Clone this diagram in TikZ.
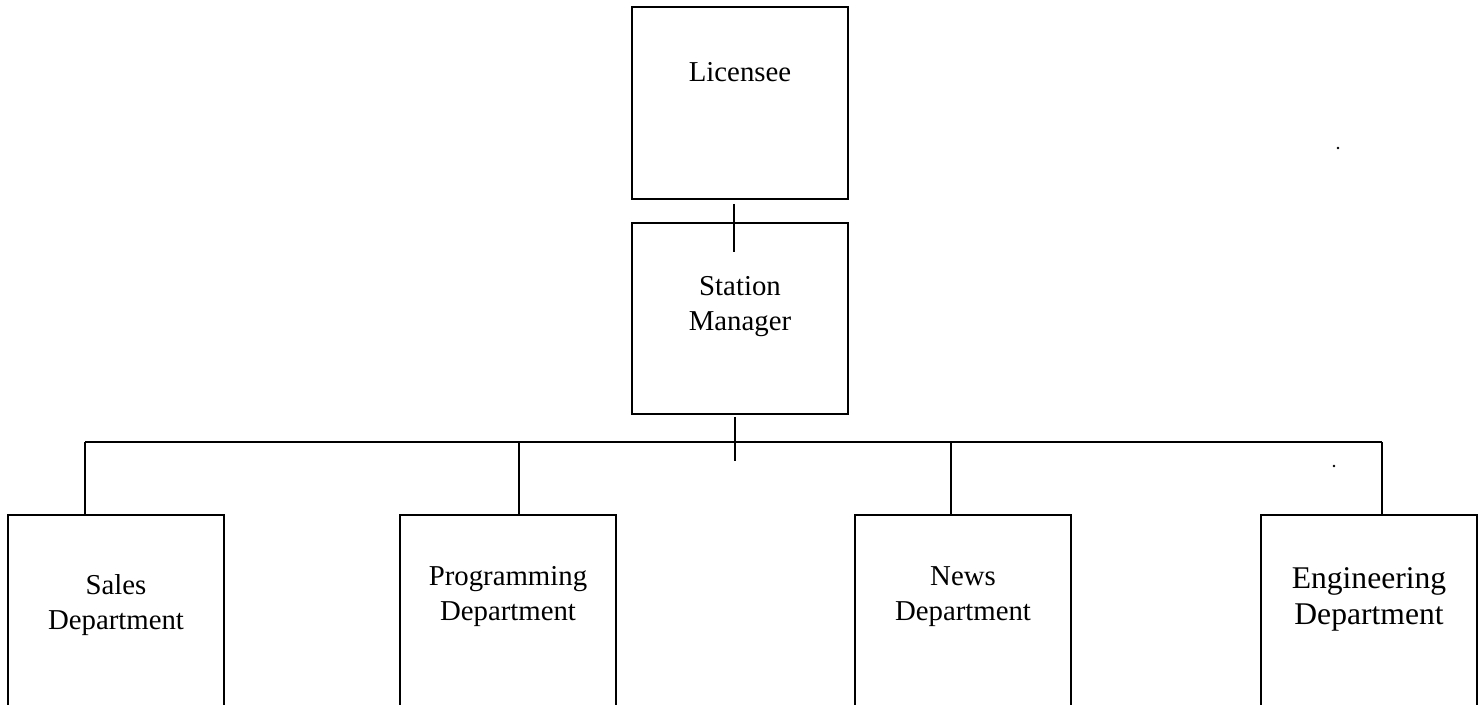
\documentclass[tikz,border=0pt]{standalone}
\usepackage{fontspec}
\setmainfont{Liberation Serif}
\usetikzlibrary{positioning}

\tikzset{
  orgbox/.style = {draw, line width=1pt, minimum width=108pt, minimum height=96pt, inner sep=0pt},
  deptbox/.style = {orgbox, minimum height=100pt},
  boxtext/.style = {anchor=north, align=center, inner sep=0pt, font=\fontsize{14.4}{17.5}\selectfont},
  link/.style = {line width=1pt},
}

\begin{document}
\begin{tikzpicture}[x=0.5pt, y=-0.5pt]
      \useasboundingbox (0, 0) rectangle (1484, 705);
      \clip (0, 0) rectangle (1484, 705);

      % top of the chart
      \node[orgbox] (lic) at (740, 103) {};
      \node[orgbox, minimum height=95.5pt] (sm) at (740, 318.5) {};
      \node[boxtext] (lic-text) at ([yshift=-28pt] lic.north) {Licensee};
      \node[boxtext] (sm-text) at ([yshift=-27pt] sm.north) {Station\\Manager};

      % departments
      \node[deptbox] (sales) at (116, 615) {};
      \node[deptbox] (prog) at (508, 615) {};
      \node[deptbox] (news) at (963, 615) {};
      \node[deptbox] (eng) at (1369, 615) {};
      \node[boxtext] (sales-text) at ([yshift=-30pt] sales.north) {Sales\\Department};
      \node[boxtext] (prog-text) at ([yshift=-26pt] prog.north) {Programming\\Department};
      \node[boxtext] (news-text) at ([yshift=-26pt] news.north) {News\\Department};
      \node[boxtext, font=\fontsize{15.8}{18}\selectfont] (eng-text) at ([yshift=-26.5pt] eng.north) {Engineering\\Department};

      % connectors
      \coordinate (lic-tick) at (734, 204);
      \coordinate (sm-tick) at (734, 252);
      \coordinate (sm-drop) at (735, 417);
      \coordinate (bus-tick) at (735, 461);
      \coordinate (bus-sales) at (85, 442);
      \coordinate (bus-prog) at (519, 442);
      \coordinate (bus-news) at (951, 442);
      \coordinate (bus-eng) at (1382, 442);

      \draw[link] (lic-tick) -- (sm-tick);
      \draw[link] (sm-drop) -- (bus-tick);
      \draw[link] (bus-sales) -- (bus-eng);
      \draw[link] (bus-sales) -- (bus-sales |- sales.north);
      \draw[link] (bus-prog) -- (bus-prog |- prog.north);
      \draw[link] (bus-news) -- (bus-news |- news.north);
      \draw[link] (bus-eng) -- (bus-eng |- eng.north);

      % stray dots
      \fill (1338, 148) circle (0.7pt);
      \fill (1334, 466) circle (0.7pt);
    \end{tikzpicture}
\end{document}
